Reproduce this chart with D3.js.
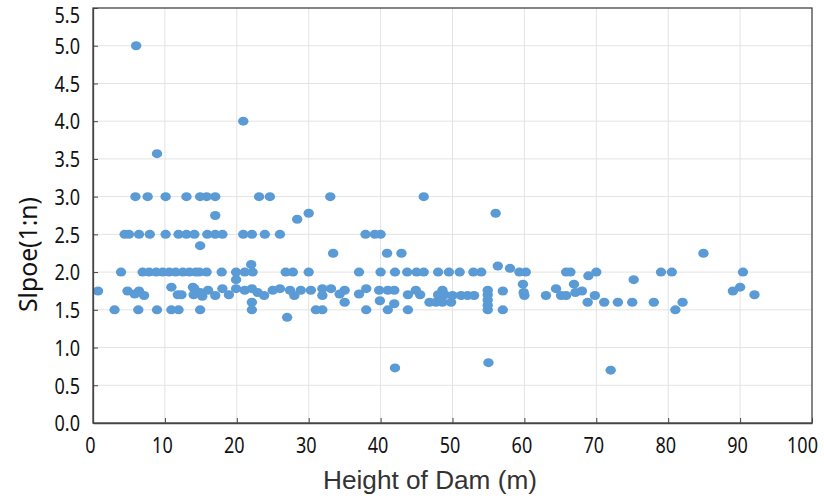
<!DOCTYPE html>
<html><head><meta charset="utf-8">
<script src="https://cdn.jsdelivr.net/npm/d3@7"></script>
<style>body{margin:0;background:#fff}svg{display:block}</style>
</head><body>
<script>
const heights = [6.0,8.9,20.9,
 5.9,7.6,10.1,13.0,14.9,15.8,17.0,23.1,24.6,33.0,46.0,
 17.0,30.0,28.4,56.0,
 4.4,5.0,6.4,7.9,10.1,11.9,13.0,14.1,15.9,17.0,18.0,20.9,22.1,23.9,26.0,37.9,39.2,40.0,
 14.9,33.4,40.9,42.9,84.9,22.0,56.3,58.0,
 3.9,6.9,7.8,8.8,9.7,10.6,11.5,12.5,13.4,14.3,14.8,15.8,17.9,19.9,21.1,22.2,26.8,27.8,30.0,37.0,40.0,42.0,43.7,45.0,46.0,48.0,49.5,51.0,52.9,54.0,59.3,60.2,65.8,66.4,70.0,79.0,80.5,90.4,
 19.9,68.9,75.2,59.8,66.9,10.9,13.9,64.4,90.0,
 0.7,4.8,6.4,14.1,14.9,16.0,18.0,18.9,19.9,21.1,22.1,22.9,25.0,26.0,27.4,28.9,30.3,31.9,33.1,35.0,38.0,39.8,41.0,41.9,44.9,48.6,54.9,57.0,68.0,89.0,59.9,67.1,
 5.8,7.1,11.8,14.0,17.0,23.8,28.0,31.9,34.3,37.0,43.8,45.5,48.0,48.9,50.0,51.2,52.1,53.0,54.9,60.0,63.0,65.1,65.8,69.8,92.0,12.3,15.2,
 22.1,35.0,39.9,41.9,46.8,47.7,48.6,49.8,54.9,68.8,71.1,73.0,75.0,78.0,82.0,
 3.0,6.3,8.9,10.9,11.9,14.9,22.1,31.0,31.9,38.0,41.0,43.8,54.9,57.0,81.0,54.9,
 27.0,42.0,55.0,72.0];
const slopes = [5.0,3.57,4.0,
 3.0,3.0,3.0,3.0,3.0,3.0,3.0,3.0,3.0,3.0,3.0,
 2.75,2.78,2.7,2.78,
 2.5,2.5,2.5,2.5,2.5,2.5,2.5,2.5,2.5,2.5,2.5,2.5,2.5,2.5,2.5,2.5,2.5,2.5,
 2.35,2.25,2.25,2.25,2.25,2.1,2.08,2.05,
 2.0,2.0,2.0,2.0,2.0,2.0,2.0,2.0,2.0,2.0,2.0,2.0,2.0,2.0,2.0,2.0,2.0,2.0,2.0,2.0,2.0,2.0,2.0,2.0,2.0,2.0,2.0,2.0,2.0,2.0,2.0,2.0,2.0,2.0,2.0,2.0,2.0,2.0,
 1.9,1.95,1.9,1.84,1.84,1.8,1.8,1.78,1.8,
 1.75,1.75,1.75,1.78,1.73,1.76,1.78,1.7,1.78,1.76,1.78,1.73,1.76,1.78,1.76,1.76,1.76,1.78,1.78,1.76,1.78,1.76,1.76,1.76,1.76,1.76,1.76,1.75,1.75,1.75,1.73,1.73,
 1.71,1.69,1.7,1.7,1.69,1.69,1.69,1.69,1.71,1.71,1.7,1.7,1.7,1.7,1.69,1.69,1.69,1.69,1.7,1.69,1.69,1.69,1.69,1.69,1.7,1.7,1.68,
 1.6,1.6,1.62,1.58,1.6,1.6,1.6,1.6,1.63,1.6,1.6,1.6,1.6,1.6,1.6,
 1.5,1.5,1.5,1.5,1.5,1.5,1.5,1.5,1.5,1.5,1.5,1.5,1.5,1.5,1.5,1.56,
 1.4,0.73,0.8,0.7];
const xTicks = [0,10,20,30,40,50,60,70,80,90,100];
const yTicks = [0,0.5,1,1.5,2,2.5,3,3.5,4,4.5,5,5.5];

const W = 824, H = 504;
const m = {left:93, right:12, top:8, bottom:81};
const svg = d3.select("body").append("svg").attr("width",W).attr("height",H);
const x = d3.scaleLinear().domain([0,100]).range([m.left, W-m.right]);
const y = d3.scaleLinear().domain([0,5.5]).range([H-m.bottom, m.top]);

// grid
svg.append("g").selectAll("line").data(xTicks.slice(1,-1)).join("line")
  .attr("x1",d=>x(d)).attr("x2",d=>x(d)).attr("y1",y(0)).attr("y2",y(5.5))
  .attr("stroke","#e3e3e3").attr("stroke-width",1);
svg.append("g").selectAll("line").data(yTicks.slice(1,-1)).join("line")
  .attr("y1",d=>y(d)).attr("y2",d=>y(d)).attr("x1",x(0)).attr("x2",x(100))
  .attr("stroke","#e3e3e3").attr("stroke-width",1);

// dots
svg.append("g").selectAll("ellipse").data(heights.map((h,i)=>[h,slopes[i]])).join("ellipse")
  .attr("cx",d=>x(d[0])).attr("cy",d=>y(d[1])).attr("rx",5.2).attr("ry",4.5)
  .attr("fill","#5b9bd5");

// frame
svg.append("rect").attr("x",x(0)).attr("y",y(5.5)).attr("width",x(100)-x(0)).attr("height",y(0)-y(5.5))
  .attr("fill","none").attr("stroke","#444").attr("stroke-width",1.3);

// axes
const fontTick = "'Noto Sans', sans-serif";
const xa = svg.append("g").attr("transform",`translate(0,${y(0)})`)
  .call(d3.axisBottom(x).tickValues(xTicks).tickSizeInner(-5).tickSizeOuter(0).tickPadding(0).tickFormat(d3.format("d")));
const ya = svg.append("g").attr("transform",`translate(${x(0)},0)`)
  .call(d3.axisLeft(y).tickValues(yTicks).tickSizeInner(-5).tickSizeOuter(0).tickPadding(0).tickFormat(d3.format(".1f")));
[xa,ya].forEach(a=>{
  a.select(".domain").attr("stroke","#444").attr("stroke-width",1.3);
  a.selectAll(".tick line").attr("stroke","#444");
  a.selectAll("text").attr("font-family",fontTick).attr("font-size",21.5).attr("fill","#111");
});
// condensed tick labels
xa.selectAll(".tick text").attr("x",0).attr("y",0).attr("dy","0.36em")
  .attr("transform",(d)=>`translate(${d===100?-10:-3},22) scale(0.84,1)`);
ya.selectAll(".tick text").attr("x",0).attr("dy","0.36em")
  .attr("transform",(d)=>`translate(-13,${d===5.5?7:0}) scale(0.84,1)`);

svg.append("text").attr("x",430).attr("y",489).attr("text-anchor","middle")
  .attr("font-family","'Liberation Sans', Arial, sans-serif").attr("font-size",26).attr("fill","#333")
  .attr("textLength",214).attr("lengthAdjust","spacingAndGlyphs")
  .text("Height of Dam (m)");
svg.append("text").attr("transform",`translate(37,254.5) rotate(-90)`).attr("text-anchor","middle")
  .attr("font-family",fontTick).attr("font-size",25).attr("fill","#111")
  .attr("textLength",115).attr("lengthAdjust","spacingAndGlyphs")
  .text("Slpoe(1:n)");
</script>
</body></html>
